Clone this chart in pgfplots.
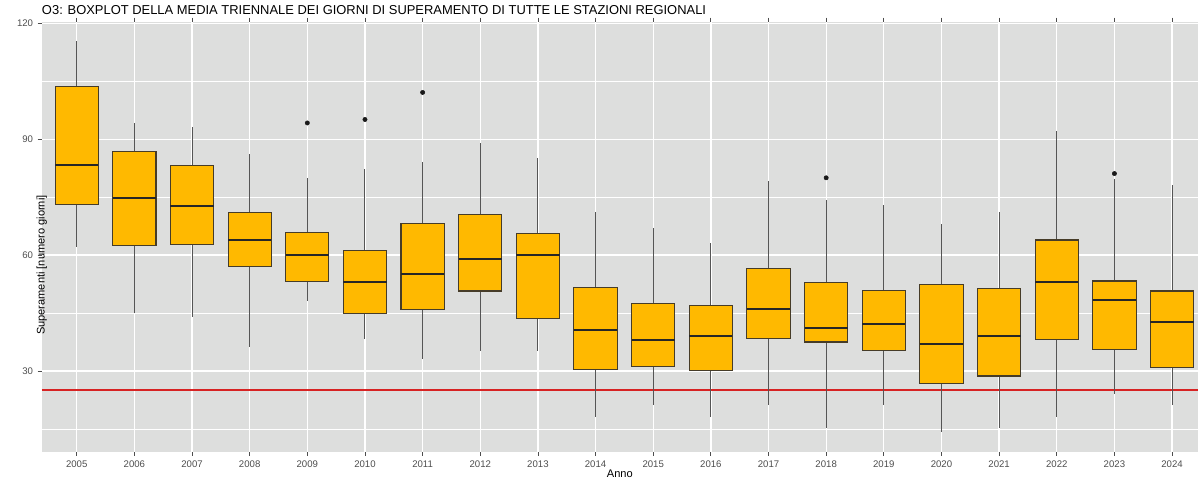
\documentclass[border=0pt]{standalone}
\usepackage{fontspec}
\setmainfont{Liberation Sans}
\usepackage{pgfplots}
\pgfplotsset{compat=1.18}
\usepgfplotslibrary{statistics}
\definecolor{panel}{RGB}{221,222,221}
\definecolor{boxfill}{RGB}{255,185,0}
\definecolor{boxedge}{RGB}{70,60,40}
\definecolor{whisk}{RGB}{85,85,85}
\definecolor{tickgrey}{RGB}{77,77,77}
\definecolor{limit}{RGB}{215,35,35}
\begin{document}
\begin{tikzpicture}
\begin{axis}[
  at={(0,0)}, anchor=south west,
  scale only axis, width=867.2pt, height=322.5pt,
  xmin=-0.607, xmax=19.45, ymin=9.1, ymax=120.4,
  axis background/.style={fill=panel},
  axis line style={draw=none},
  xtick={0,1,2,3,4,5,6,7,8,9,10,11,12,13,14,15,16,17,18,19},
  xticklabels={2005,2006,2007,2008,2009,2010,2011,2012,2013,2014,2015,2016,2017,2018,2019,2020,2021,2022,2023,2024},
  ytick={30,60,90,120}, minor ytick={15,45,75,105},
  grid=both,
  major grid style={white, line width=1.0pt},
  minor grid style={white, line width=0.5pt},
  tick align=outside, major tick length=3pt, minor tick length=0pt,
  tick style={tickgrey, line width=0.6pt},
  ticklabel style={font=\fontsize{7.2}{8}\selectfont, text=tickgrey},
  /pgf/number format/assume math mode=true,
  xlabel={Anno}, ylabel={Superamenti [numero giorni]},
  label style={font=\fontsize{8.3}{10}\selectfont},
  xlabel style={at={(axis description cs:0.5,0)}, anchor=center, yshift=-16.2pt},
  ylabel style={at={(axis description cs:0,0.5)}, anchor=center, xshift=-21.3pt},
  boxplot/draw direction=y,
  boxplot/box extend=0.75,
  boxplot/whisker extend=0,
  boxplot/every box/.style={draw=boxedge, fill=boxfill, line width=0.8pt},
  boxplot/every median/.style={draw=black!85, line width=1.5pt},
  boxplot/every whisker/.style={draw=whisk, line width=0.75pt},
  bp/.style={solid, mark=*, mark size=1.6pt, mark options={fill=black!90, draw=black!90}},
]
\addplot[limit, line width=1.4pt] coordinates {(-0.607,25) (19.45,25)};
\addplot[bp, boxplot prepared={draw position=0, lower whisker=62.2, lower quartile=73.0, median=83.2, upper quartile=103.6, upper whisker=115.3}] coordinates {};
\addplot[bp, boxplot prepared={draw position=1, lower whisker=45.1, lower quartile=62.6, median=74.7, upper quartile=86.7, upper whisker=94.2}] coordinates {};
\addplot[bp, boxplot prepared={draw position=2, lower whisker=44.1, lower quartile=62.8, median=72.8, upper quartile=83.1, upper whisker=93.1}] coordinates {};
\addplot[bp, boxplot prepared={draw position=3, lower whisker=36.1, lower quartile=57.0, median=64.0, upper quartile=71.1, upper whisker=86.2}] coordinates {};
\addplot[bp, boxplot prepared={draw position=4, lower whisker=48.2, lower quartile=53.2, median=60.1, upper quartile=65.9, upper whisker=80.0}] coordinates {(0,94.2)};
\addplot[bp, boxplot prepared={draw position=5, lower whisker=38.2, lower quartile=45.0, median=53.1, upper quartile=61.1, upper whisker=82.2}] coordinates {(0,95.1)};
\addplot[bp, boxplot prepared={draw position=6, lower whisker=33.1, lower quartile=46.0, median=55.2, upper quartile=68.1, upper whisker=84.2}] coordinates {(0,102.1)};
\addplot[bp, boxplot prepared={draw position=7, lower whisker=35.1, lower quartile=50.7, median=59.1, upper quartile=70.4, upper whisker=89.1}] coordinates {};
\addplot[bp, boxplot prepared={draw position=8, lower whisker=35.1, lower quartile=43.6, median=60.1, upper quartile=65.5, upper whisker=85.1}] coordinates {};
\addplot[bp, boxplot prepared={draw position=9, lower whisker=18.2, lower quartile=30.4, median=40.6, upper quartile=51.6, upper whisker=71.2}] coordinates {};
\addplot[bp, boxplot prepared={draw position=10, lower whisker=21.2, lower quartile=31.1, median=38.1, upper quartile=47.5, upper whisker=67.0}] coordinates {};
\addplot[bp, boxplot prepared={draw position=11, lower whisker=18.2, lower quartile=30.2, median=39.1, upper quartile=46.9, upper whisker=63.1}] coordinates {};
\addplot[bp, boxplot prepared={draw position=12, lower whisker=21.2, lower quartile=38.5, median=46.1, upper quartile=56.5, upper whisker=79.1}] coordinates {};
\addplot[bp, boxplot prepared={draw position=13, lower whisker=15.2, lower quartile=37.5, median=41.1, upper quartile=53.0, upper whisker=74.2}] coordinates {(0,80.0)};
\addplot[bp, boxplot prepared={draw position=14, lower whisker=21.2, lower quartile=35.4, median=42.1, upper quartile=50.9, upper whisker=73.0}] coordinates {};
\addplot[bp, boxplot prepared={draw position=15, lower whisker=14.3, lower quartile=26.7, median=37.0, upper quartile=52.4, upper whisker=68.1}] coordinates {};
\addplot[bp, boxplot prepared={draw position=16, lower whisker=15.2, lower quartile=28.7, median=39.1, upper quartile=51.3, upper whisker=71.1}] coordinates {};
\addplot[bp, boxplot prepared={draw position=17, lower whisker=18.2, lower quartile=38.1, median=53.1, upper quartile=63.9, upper whisker=92.2}] coordinates {};
\addplot[bp, boxplot prepared={draw position=18, lower whisker=24.0, lower quartile=35.6, median=48.4, upper quartile=53.3, upper whisker=79.8}] coordinates {(0,81.1)};
\addplot[bp, boxplot prepared={draw position=19, lower whisker=21.2, lower quartile=31.0, median=42.6, upper quartile=50.7, upper whisker=78.1}] coordinates {};
\end{axis}
\node[anchor=base west, inner sep=0pt, font=\fontsize{9.7}{11}\selectfont]
  at (0pt,327.8pt) {O3: BOXPLOT DELLA MEDIA TRIENNALE DEI GIORNI DI SUPERAMENTO DI TUTTE LE STAZIONI REGIONALI};
\pgfresetboundingbox
\path[use as bounding box] (-31.3pt,-19.7pt) rectangle (867.2pt,338.8pt);
\end{tikzpicture}
\end{document}
